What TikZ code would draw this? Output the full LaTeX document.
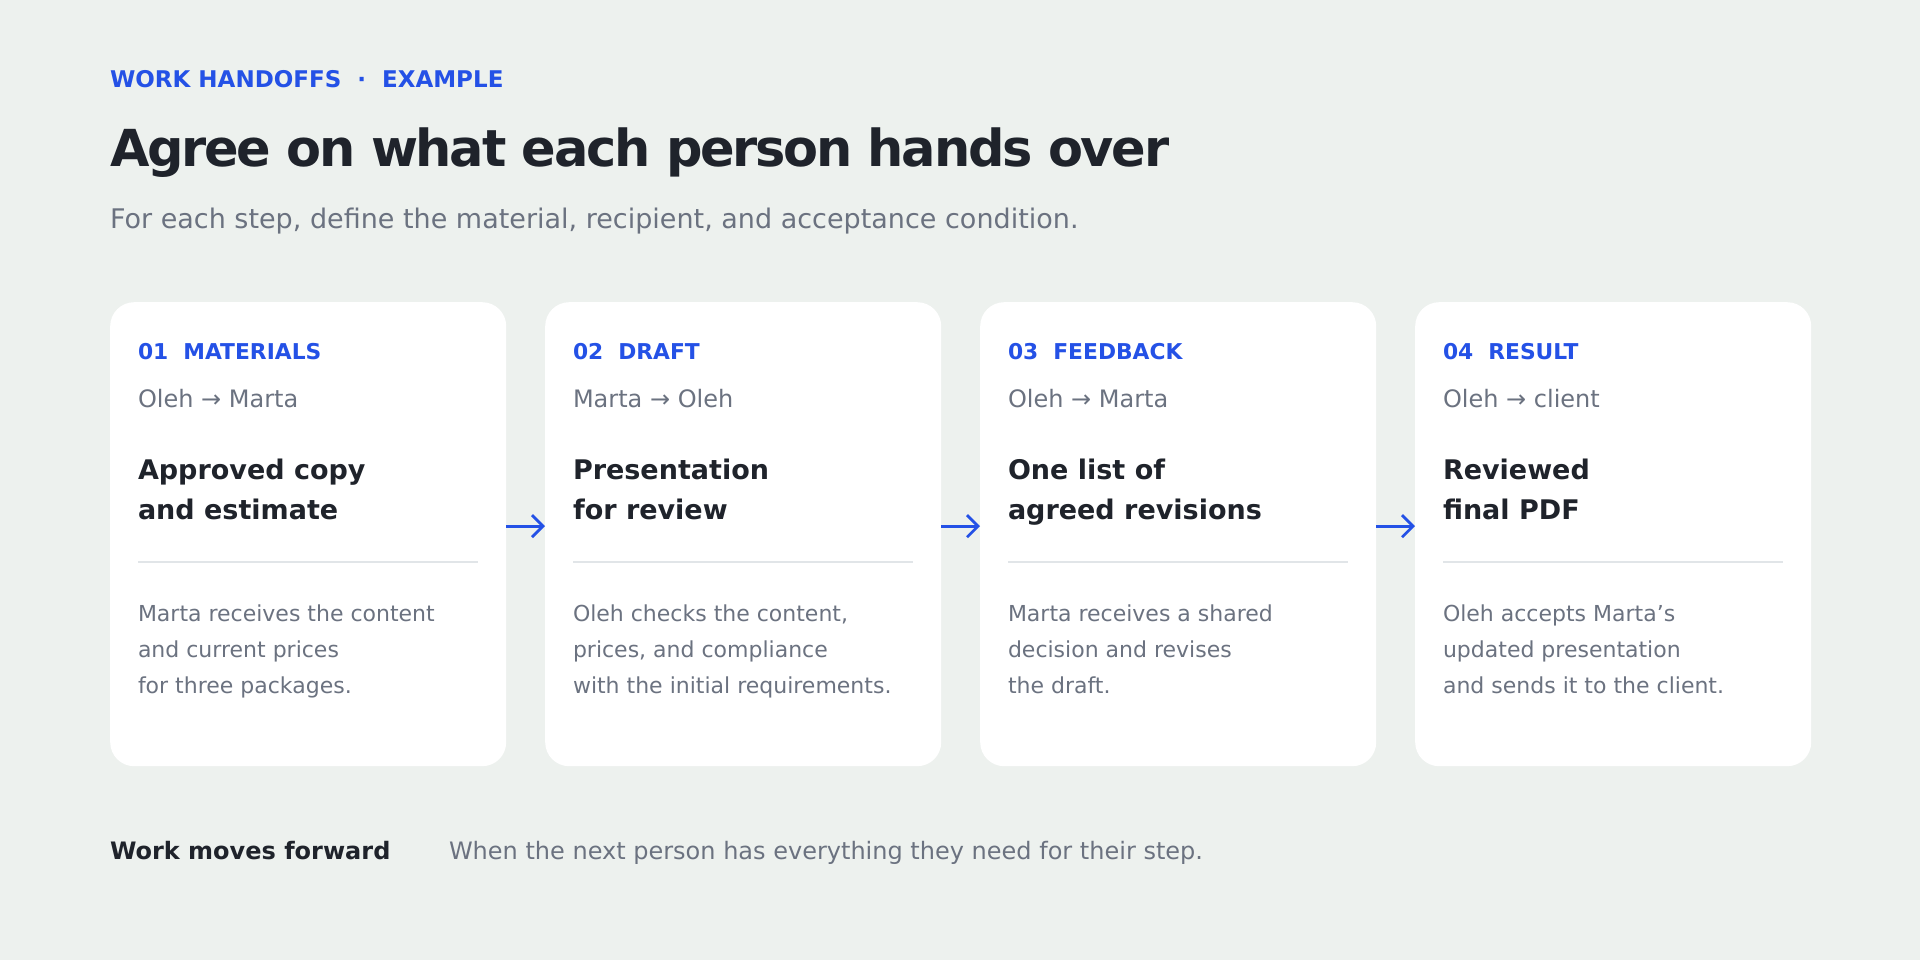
\documentclass[tikz,border=0pt]{standalone}
\usepackage{fontspec}
\setmainfont{DejaVu Sans}
\usetikzlibrary{arrows.meta}
\definecolor{bg}{HTML}{EDF1EE}
\definecolor{accent}{HTML}{2451E6}
\definecolor{ink}{HTML}{1F232B}
\definecolor{muted}{HTML}{6B7280}
\definecolor{rulecol}{HTML}{E1E5E8}
\newcommand\handcard[9]{%
  \node[card] (#1) at (#2,302) {};
  \node[lbl]  (#1l)  at (#2+28,359) {#3};
  \node[who]  (#1n)  at (#2+28,407) {#4};
  \node[head] (#1h1) at (#2+28,479) {#5};
  \node[head] (#1h2) at (#2+28,519) {#6};
  \coordinate (#1ra) at (#2+28,562);
  \coordinate (#1rb) at (#2+368,562);
  \draw[divider] (#1ra) -- (#1rb);
  \node[body] (#1b1) at (#2+28,621) {#7};
  \node[body] (#1b2) at (#2+28,657) {#8};
  \node[body] (#1b3) at (#2+28,693) {#9};
}
\begin{document}
\begin{tikzpicture}[x=1pt,y=-1pt,
  txt/.style={anchor=base west, inner sep=0pt, outer sep=0pt},
  eyebrow/.style={txt, text=accent, font=\fontsize{23}{28}\selectfont\bfseries},
  titletext/.style={txt, text=ink, font={\fontsize{51}{60}\selectfont\bfseries\addfontfeatures{LetterSpace=-4.5}}},
  subtitle/.style={txt, text=muted, font=\fontsize{27}{32}\selectfont},
  card/.style={fill=white, draw=none, rounded corners=24pt, minimum width=396pt, minimum height=464pt, inner sep=0pt, anchor=north west},
  lbl/.style={txt, text=accent, font=\fontsize{21.8}{26}\selectfont\bfseries},
  who/.style={txt, text=muted, font=\fontsize{24}{29}\selectfont},
  head/.style={txt, text=ink, font=\fontsize{27}{32}\selectfont\bfseries},
  body/.style={txt, text=muted, font=\fontsize{22}{26}\selectfont},
  divider/.style={draw=rulecol, line width=1.6pt},
  flow/.style={draw=accent, line width=2.8pt, -{Straight Barb[length=11pt, width=22pt, line width=2.8pt]}},
  footbold/.style={txt, text=ink, font=\fontsize{24}{29}\selectfont\bfseries},
  foottext/.style={txt, text=muted, font=\fontsize{24}{29}\selectfont}
]
\fill[bg] (0,0) rectangle (1920,960);
\useasboundingbox (0,0) rectangle (1920,960);

\node[eyebrow] (eyebrow) at (110,87.5) {WORK HANDOFFS\hspace{16pt}·\hspace{16pt}EXAMPLE};
\node[titletext] (title) at (110,166.7) {Agree on what each person hands over};
\node[subtitle] (sub) at (110,228.3) {For each step, define the material, recipient, and acceptance condition.};

\handcard{c1}{110}{01\hspace{15pt}MATERIALS}{Oleh → Marta}{Approved copy}{and estimate}{Marta receives the content}{and current prices}{for three packages.}
\handcard{c2}{545}{02\hspace{15pt}DRAFT}{Marta → Oleh}{Presentation}{for review}{Oleh checks the content,}{prices, and compliance}{with the initial requirements.}
\handcard{c3}{980}{03\hspace{15pt}FEEDBACK}{Oleh → Marta}{One list of}{agreed revisions}{Marta receives a shared}{decision and revises}{the draft.}
\handcard{c4}{1415}{04\hspace{15pt}RESULT}{Oleh → client}{Reviewed}{final PDF}{Oleh accepts Marta’s}{updated presentation}{and sends it to the client.}

\draw[flow] ([yshift=8pt]c1.east) -- ([yshift=8pt]c2.west);
\draw[flow] ([yshift=8pt]c2.east) -- ([yshift=8pt]c3.west);
\draw[flow] ([yshift=8pt]c3.east) -- ([yshift=8pt]c4.west);

\node[footbold] (fb) at (110,859.3) {Work moves forward};
\node[foottext] (ft) at (449,859.3) {When the next person has everything they need for their step.};
\end{tikzpicture}
\end{document}
